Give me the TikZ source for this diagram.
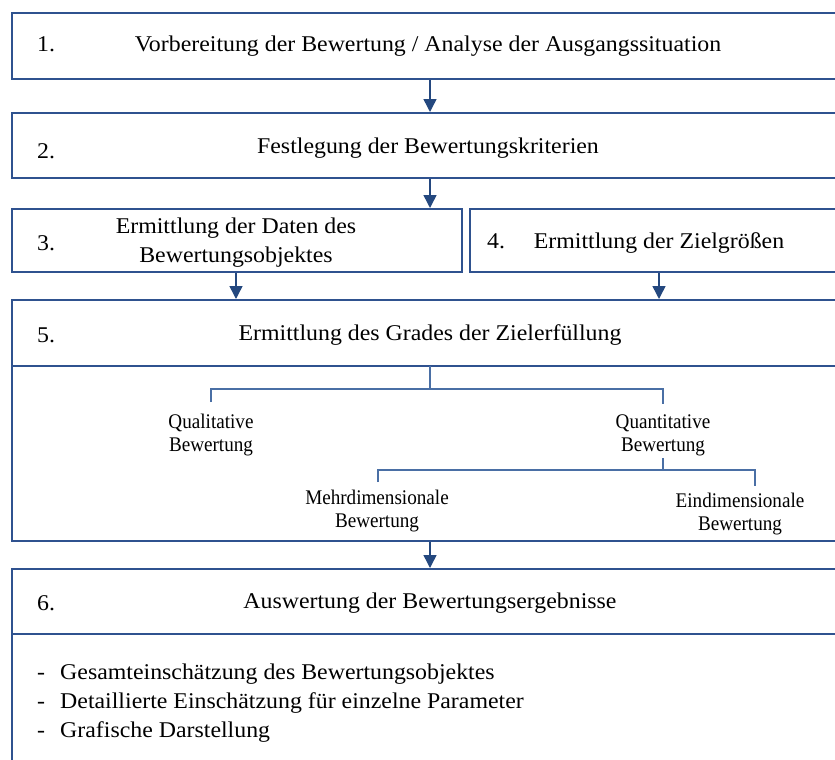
\documentclass[tikz,border=0pt]{standalone}
\usepackage{fontspec}
\setmainfont{Liberation Serif}
\newfontfamily\mainf[FakeStretch=1.06]{Liberation Serif}
\newfontfamily\treef[FakeStretch=0.92]{Liberation Serif}
\usetikzlibrary{arrows.meta}
\definecolor{boxblue}{HTML}{2F528F}
\definecolor{arrblue}{HTML}{24487F}
\definecolor{treeblue}{HTML}{4A6FA5}
\tikzset{
  box/.style={draw=boxblue, line width=2.4pt, rectangle, inner sep=0pt, anchor=north west},
  arr/.style={draw=arrblue, line width=1.5pt, -{Triangle[width=13pt,length=13pt]}},
  tree/.style={draw=treeblue, line width=1.2pt},
  maintxt/.style={font=\mainf\fontsize{22.5}{28}\selectfont, inner sep=0pt, anchor=base},
  numtxt/.style={font=\mainf\fontsize{22.5}{28}\selectfont, inner sep=0pt, anchor=base west},
  bultxt/.style={font=\mainf\fontsize{22.5}{28}\selectfont, inner sep=0pt, anchor=base west},
  treetxt/.style={font=\treef\fontsize{20.8}{23}\selectfont, inner sep=0pt, anchor=base},
}
\begin{document}
\begin{tikzpicture}[x=1pt,y=-1pt]
\useasboundingbox (0,0) rectangle (835,760);
\clip (0,0) rectangle (835,760);
\fill[white] (0,0) rectangle (835,760);

% boxes
\node[box, minimum width=839pt, minimum height=66pt] (b1) at (11,12) {};
\node[box, minimum width=839pt, minimum height=65pt] (b2) at (11,112) {};
\node[box, minimum width=450pt, minimum height=63pt] (b3) at (11,208) {};
\node[box, minimum width=381pt, minimum height=63pt] (b4) at (469,208) {};
\node[box, minimum width=839pt, minimum height=241pt] (b5) at (11,299) {};
\node[box, minimum width=839pt, minimum height=222pt] (b6) at (11,568) {};

% dividers
\coordinate (d5) at (0,366);
\coordinate (d6) at (0,634);
\draw[draw=boxblue, line width=2.4pt] (b5.west |- d5) -- (b5.east |- d5);
\draw[draw=boxblue, line width=2.4pt] (b6.west |- d6) -- (b6.east |- d6);

% arrows
\coordinate (ax) at (430,0);
\coordinate (a3x) at (236,0);
\coordinate (a4x) at (659,0);
\draw[arr] (b1.south -| ax) -- (b2.north -| ax);
\draw[arr] (b2.south -| ax) -- (b3.north -| ax);
\draw[arr] (b3.south -| a3x) -- (b5.north -| a3x);
\draw[arr] (b4.south -| a4x) -- (b5.north -| a4x);
\draw[arr] (b5.south -| ax) -- (b6.north -| ax);

% box texts
\node[numtxt] (n1) at (37,52) {1.};
\node[maintxt] (t1) at (428,52) {Vorbereitung der Bewertung / Analyse der Ausgangssituation};
\node[numtxt] (n2) at (37,158) {2.};
\node[maintxt] (t2) at (428,153) {Festlegung der Bewertungskriterien};
\node[numtxt] (n3) at (37,250) {3.};
\node[maintxt] (t3a) at (236,233) {Ermittlung der Daten des};
\node[maintxt] (t3b) at (236,262) {Bewertungsobjektes};
\node[numtxt] (n4) at (487,248) {4.};
\node[maintxt] (t4) at (659,248) {Ermittlung der Zielgrößen};
\node[numtxt] (n5) at (37,342) {5.};
\node[maintxt] (t5) at (430,340) {Ermittlung des Grades der Zielerfüllung};
\node[numtxt] (n6) at (37,610) {6.};
\node[maintxt] (t6) at (430,608) {Auswertung der Bewertungsergebnisse};

% bullets
\node[bultxt] (m1) at (37,679) {-};
\node[bultxt] (l1) at (60,679) {Gesamteinschätzung des Bewertungsobjektes};
\node[bultxt] (m2) at (37,708) {-};
\node[bultxt] (l2) at (60,708) {Detaillierte Einschätzung für einzelne Parameter};
\node[bultxt] (m3) at (37,737) {-};
\node[bultxt] (l3) at (60,737) {Grafische Darstellung};

% tree texts
\node[treetxt] (qla) at (211,428) {Qualitative};
\node[treetxt] (qlb) at (211,451) {Bewertung};
\node[treetxt] (qna) at (663,428) {Quantitative};
\node[treetxt] (qnb) at (663,451) {Bewertung};
\node[treetxt] (mda) at (377,504) {Mehrdimensionale};
\node[treetxt] (mdb) at (377,527) {Bewertung};
\node[treetxt] (eda) at (740,507) {Eindimensionale};
\node[treetxt] (edb) at (740,530) {Bewertung};

% tree connectors
\coordinate (j0) at (430,366);
\coordinate (j1) at (430,389);
\coordinate (qlt) at (211,402);
\coordinate (qnt) at (663,404);
\draw[tree] (j0) -- (j1);
\draw[tree] (qlt) -- (qlt |- j1) -- (qnt |- j1) -- (qnt);
\coordinate (j2) at (663,458);
\coordinate (j3) at (663,470);
\coordinate (mdt) at (378,482);
\coordinate (edt) at (755,486);
\draw[tree] (j2) -- (j3);
\draw[tree] (mdt) -- (mdt |- j3) -- (edt |- j3) -- (edt);
\end{tikzpicture}
\end{document}
